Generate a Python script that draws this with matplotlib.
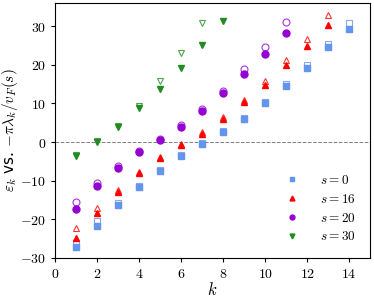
import numpy as np
import matplotlib
matplotlib.use("Agg")
import matplotlib.pyplot as plt

plt.rcParams["mathtext.fontset"] = "cm"

k = np.arange(1, 15)

# filled markers: epsilon_k
eps_s0 = [-27.2, -21.6, -16.4, -11.6, -7.4, -3.6, -0.5, 2.6, 6.0, 10.0, 14.5, 19.2, 24.5, 29.4]
eps_s16 = [-24.9, -18.3, -12.9, -8.0, -4.1, -0.8, 2.2, 6.0, 10.4, 14.9, 19.9, 25.0, 30.4]
eps_s20 = [-17.4, -11.5, -6.6, -2.6, 0.6, 4.0, 8.0, 12.6, 17.5, 22.8, 28.3]
eps_s30 = [-3.5, 0.0, 4.0, 8.7, 13.8, 19.3, 25.2, 31.3]

# open markers: -pi lambda_k / v_F(s)
lam_s0 = [-26.0, -20.5, -15.7, -11.4, -7.2, -3.4, -0.3, 2.8, 6.3, 10.3, 15.0, 19.9, 25.3, 30.8]
lam_s16 = [-22.2, -17.1, -12.4, -7.8, -3.8, -0.5, 2.6, 6.5, 11.0, 15.8, 21.2, 26.8, 32.9]
lam_s20 = [-15.5, -10.6, -6.3, -2.4, 0.8, 4.3, 8.5, 13.2, 18.8, 24.7, 31.2]
lam_s30 = [-3.4, 0.2, 4.2, 9.4, 15.8, 23.0, 30.9]

labels = ["$s = 0$", "$s = 16$", "$s = 20$", "$s = 30$"]
colors = ["cornflowerblue", "red", "darkviolet", "forestgreen"]
markers = ["s", "^", "o", "v"]

fig = plt.figure(figsize=(3.74, 3.01), dpi=100)
ax = fig.add_axes([0.147, 0.143, 0.843, 0.847])

ax.axhline(0, color="gray", ls="--", lw=0.7)

for lam, c, m in zip([lam_s0, lam_s16, lam_s20, lam_s30], colors, markers):
    ax.plot(k[:len(lam)], lam, ls="none", marker=m, ms=5, mfc="white",
            mec=c, mew=0.8, alpha=0.8)
for eps, c, m, lab in zip([eps_s0, eps_s16, eps_s20, eps_s30], colors, markers, labels):
    ax.plot(k[:len(eps)], eps, ls="none", marker=m, ms=5, color=c, label=lab)

ax.set_xlim(0, 15)
ax.set_ylim(-30, 36)
ax.set_xticks(np.arange(0, 15, 2))
ax.set_yticks(np.arange(-30, 31, 10))
ax.tick_params(labelsize=10, length=3)
ax.xaxis.set_major_formatter(matplotlib.ticker.FuncFormatter(lambda v, p: "$%d$" % v))
ax.yaxis.set_major_formatter(matplotlib.ticker.FuncFormatter(lambda v, p: "$%d$" % v))

ax.set_xlabel("$k$", fontsize=12, labelpad=0)
ax.set_ylabel(r"$\varepsilon_k$ vs. $-\pi\lambda_k/v_F(s)$", fontsize=11, labelpad=0)

ax.legend(loc="lower right", frameon=False, fontsize=9.5, markerscale=0.7,
          handlelength=1.0, handletextpad=1.6, labelspacing=0.45,
          borderaxespad=0.7)

fig.savefig("out.png", dpi=100)
